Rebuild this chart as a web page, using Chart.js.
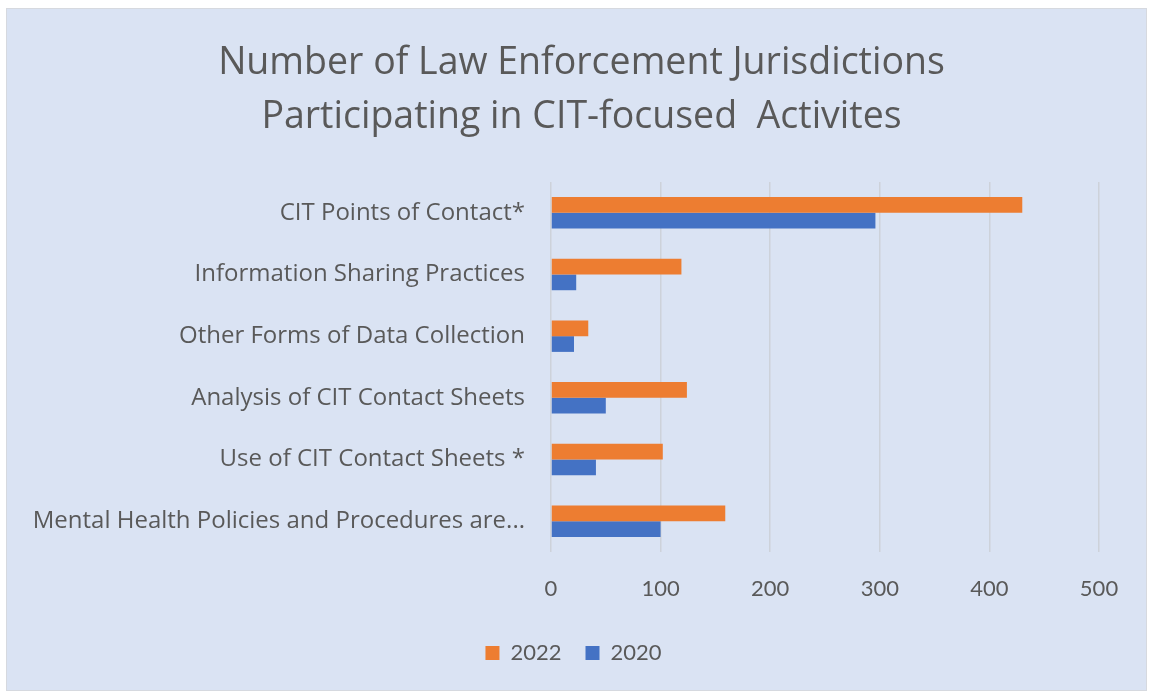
<!DOCTYPE html>
<html><head><meta charset="utf-8">
<script src="https://cdn.jsdelivr.net/npm/chart.js@4/dist/chart.umd.min.js"></script>
<style>html,body{margin:0;padding:0;background:#fff;}#wrap{width:1150px;height:692px;position:relative;}</style>
</head><body><div id="wrap"><canvas id="c" width="1150" height="692"></canvas></div>
<script>
const titleLines = ['Number of Law Enforcement Jurisdictions', 'Participating in CIT-focused  Activites'];
const categories = [
  'CIT Points of Contact*',
  'Information Sharing Practices',
  'Other Forms of Data Collection',
  'Analysis of CIT Contact Sheets',
  'Use of CIT Contact Sheets *',
  'Mental Health Policies and Procedures are...'
];
const seriesNames = ['2022', '2020'];
const values2022 = [430, 119, 34, 124, 102, 159];
const values2020 = [296, 23, 21, 50, 41, 100];
const xTicks = [0, 100, 200, 300, 400, 500];

const FONT = 'Lato, "Open Sans", sans-serif';
const FONT_WIDE = '"Open Sans", Lato, sans-serif';
const TEXT = '#595959';

const panelPlugin = {
  id: 'panel',
  beforeDraw(chart) {
    const ctx = chart.ctx;
    ctx.save();
    ctx.fillStyle = '#ffffff';
    ctx.fillRect(0, 0, chart.width, chart.height);
    ctx.fillStyle = '#dae3f3';
    ctx.fillRect(6, 8, 1141, 683);
    ctx.strokeStyle = '#d6d9df';
    ctx.lineWidth = 1;
    ctx.strokeRect(6.5, 8.5, 1140, 682);
    ctx.restore();
  },
  afterLayout(chart) {
    if (chart.titleBlock) { chart.titleBlock.left += 32; chart.titleBlock.right += 32; }
    if (chart.legend) { chart.legend.left += 24; chart.legend.right += 24; }
  }
};

new Chart(document.getElementById('c'), {
  type: 'bar',
  data: {
    labels: categories,
    datasets: [
      { label: seriesNames[0], data: values2022, backgroundColor: '#ed7d31', categoryPercentage: 0.51, barPercentage: 1.0 },
      { label: seriesNames[1], data: values2020, backgroundColor: '#4472c4', categoryPercentage: 0.51, barPercentage: 1.0 }
    ]
  },
  options: {
    indexAxis: 'y',
    responsive: false,
    animation: false,
    devicePixelRatio: 1,
    layout: { padding: { top: 26, left: 0, right: 51, bottom: 18 } },
    plugins: {
      title: {
        display: true,
        text: titleLines,
        color: TEXT,
        font: { family: FONT_WIDE, size: 37.5, weight: 'normal', lineHeight: 1.44 },
        padding: { top: 10, bottom: 38 }
      },
      legend: {
        position: 'bottom',
        labels: {
          color: TEXT,
          font: { family: FONT, size: 22 },
          boxWidth: 14, boxHeight: 14,
          padding: 24
        }
      },
      tooltip: { enabled: false }
    },
    scales: {
      x: {
        min: 0, max: 500,
        afterBuildTicks(scale) { scale.ticks = xTicks.map(v => ({ value: v })); },
        afterFit(scale) { scale.height = 66; },
        ticks: { color: TEXT, font: { family: FONT, size: 22 }, padding: 24 },
        grid: { color: '#cdd2da', lineWidth: 1.5, drawTicks: false },
        border: { display: false }
      },
      y: {
        afterFit(scale) { scale.width = 551; },
        ticks: { color: TEXT, font: { family: FONT_WIDE, size: 24 }, padding: 26 },
        grid: { display: false, drawTicks: false },
        border: { display: false }
      }
    }
  },
  plugins: [panelPlugin]
});
</script></body></html>
